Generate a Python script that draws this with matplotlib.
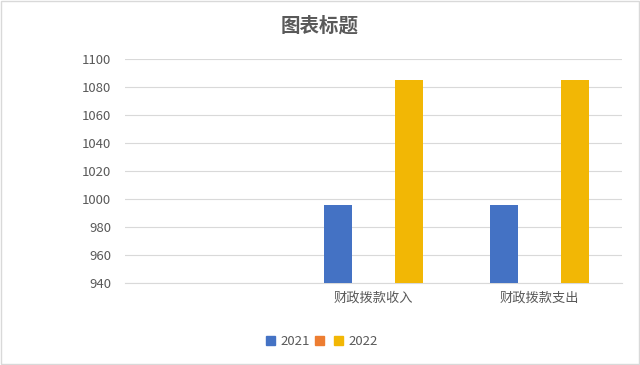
import numpy as np
import matplotlib
matplotlib.use('Agg')
import matplotlib.pyplot as plt
from matplotlib.patches import Rectangle

plt.rcParams['font.family'] = ['Noto Sans CJK SC', 'DejaVu Sans']

categories = ['', '财政拨款收入', '财政拨款支出']
series_names = ['2021', '', '2022']
vals_2021 = [np.nan, 996, 996]
vals_blank = [np.nan, np.nan, np.nan]
vals_2022 = [np.nan, 1085, 1085]
colors = ['#4472C4', '#ED7D31', '#F2B705']
yticks = [940, 960, 980, 1000, 1020, 1040, 1060, 1080, 1100]

fig = plt.figure(figsize=(6.4, 3.65), dpi=100)
fig.patches.append(Rectangle((0.002, 0.003), 0.996, 0.994, transform=fig.transFigure,
                             fill=False, edgecolor='#d9d9d9', linewidth=1))
ax = fig.add_axes([0.195, 0.225, 0.777, 0.613])

x = np.arange(len(categories))
bw = 0.17
offsets = [-0.214, 0, 0.214]
handles = []
for vals, off, c in zip([vals_2021, vals_blank, vals_2022], offsets, colors):
    v = np.array(vals, dtype=float)
    ax.bar(x + off, v - 940, bw, bottom=940, color=c, zorder=3)
    handles.append(Rectangle((0, 0), 1, 1, color=c))

ax.set_xlim(-0.5, len(categories) - 0.5)
ax.set_ylim(940, 1100)
ax.set_yticks(yticks)
ax.set_xticks(x)
ax.set_xticklabels(categories)
ax.grid(axis='y', color='#d9d9d9', linewidth=0.8, zorder=0)
for s in ['top', 'right', 'left']:
    ax.spines[s].set_visible(False)
ax.spines['bottom'].set_color('#d9d9d9')
ax.tick_params(axis='both', length=0, colors='#595959', labelsize=9.5)
ax.tick_params(axis='y', pad=10)
ax.tick_params(axis='x', pad=6)

fig.text(0.5, 0.93, '图表标题', ha='center', va='center', fontsize=14,
         fontweight='bold', color='#595959')

fig.legend(handles, series_names, loc='center', bbox_to_anchor=(0.503, 0.065), ncol=3,
           frameon=False, fontsize=9.5, labelcolor='#595959', handlelength=0.7,
           handleheight=0.7, handletextpad=0.4, columnspacing=0.35)

fig.savefig('out.png', dpi=100)
